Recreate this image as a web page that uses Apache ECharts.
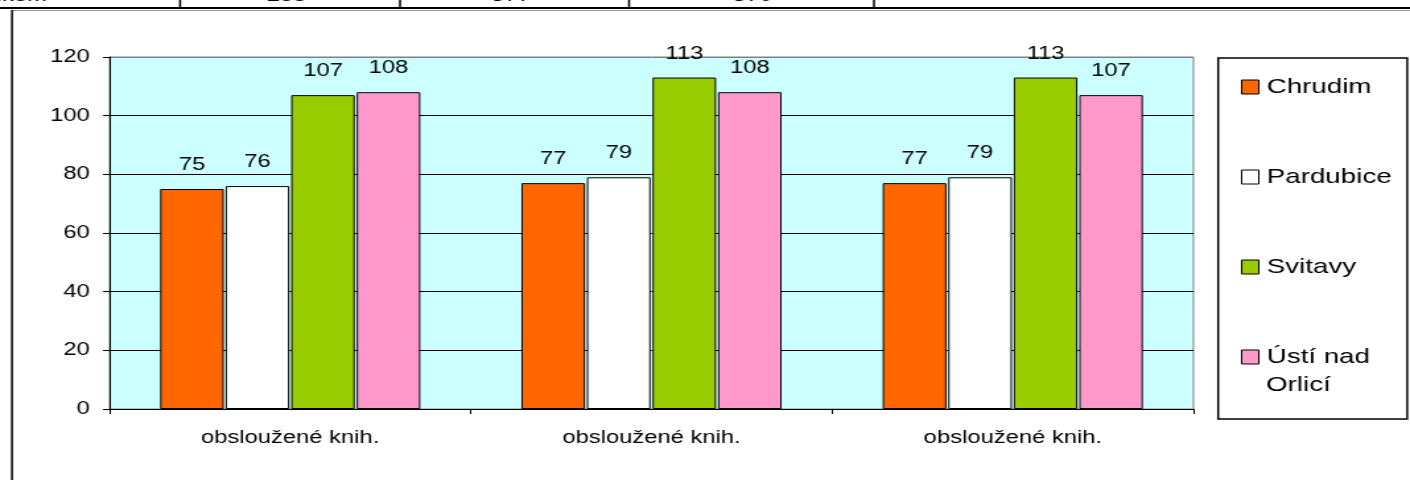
<!DOCTYPE html>
<html>
<head>
<meta charset="utf-8">
<script src="https://cdn.jsdelivr.net/npm/echarts@6/dist/echarts.min.js"></script>
<style>
  html, body { margin: 0; padding: 0; background: #fff; overflow: hidden; width: 1410px; height: 480px; }
  #c { width: 1068px; height: 480px; transform: scaleX(1.3202); transform-origin: 0 0; }
</style>
</head>
<body>
<div id="c"></div>
<script>
// ---- data ----
const categories = ['obsloužené knih.', 'obsloužené knih.', 'obsloužené knih.'];
const seriesNames = ['Chrudim', 'Pardubice', 'Svitavy', 'Ústí nad Orlicí'];
const chrudim = [75, 77, 77];
const pardubice = [76, 79, 79];
const svitavy = [107, 113, 113];
const ustiNadOrlici = [108, 108, 107];
const yTicks = [0, 20, 40, 60, 80, 100, 120];
const tableRowTexts = ['Celkem', '255', '377', '370'];
// legend label of the last series is wrapped onto two lines
const lastLegendLine1 = 'Ústí nad';
const lastLegendLine2 = 'Orlicí';

const colors = ['#FF6600', '#FFFFFF', '#99CC00', '#FF99CC'];
const values = [chrudim, pardubice, svitavy, ustiNadOrlici];
const FONT = "'Liberation Sans', Arial, sans-serif";

const chart = echarts.init(document.getElementById('c'), null, { renderer: 'canvas' });

const series = seriesNames.map((name, i) => ({
  name: name,
  type: 'bar',
  data: values[i],
  barGap: '3%',
  barCategoryGap: '28%',
  itemStyle: { color: colors[i], borderColor: '#000', borderWidth: 1 },
  label: {
    show: true, position: 'top', distance: 15,
    color: '#000', fontSize: 18, fontFamily: FONT
  },
  emphasis: { disabled: true },
  animation: false
}));

const LEG_LEFT = 940, LEG_TOP = 73, LEG_ICON_W = 13, LEG_ICON_H = 14, LEG_GAP = 62, LEG_LINE = 28;

const option = {
  animation: false,
  backgroundColor: '#ffffff',
  grid: {
    left: 83, right: 164, top: 57, bottom: 71,
    show: true, backgroundColor: '#CCFFFF', borderColor: '#808080', borderWidth: 1
  },
  xAxis: {
    type: 'category',
    data: categories,
    axisLine: { lineStyle: { color: '#000', width: 1 } },
    axisTick: { show: true, length: 5, lineStyle: { color: '#000' } },
    axisLabel: { color: '#000', fontSize: 18, fontFamily: FONT, margin: 20 },
    splitLine: { show: false }
  },
  yAxis: {
    type: 'value',
    min: yTicks[0], max: yTicks[yTicks.length - 1], interval: 20,
    axisLine: { show: true, lineStyle: { color: '#000', width: 1 } },
    axisTick: { show: true, length: 5, lineStyle: { color: '#000' } },
    axisLabel: { color: '#000', fontSize: 18, fontFamily: FONT, margin: 15 },
    splitLine: { show: true, lineStyle: { color: ['#000', '#000', '#000', '#000', '#000', '#000', '#808080'], width: 1 } }
  },
  legend: {
    orient: 'vertical',
    left: LEG_LEFT, top: LEG_TOP, padding: 0,
    itemWidth: LEG_ICON_W, itemHeight: LEG_ICON_H, itemGap: LEG_GAP,
    icon: 'rect',
    itemStyle: { borderColor: '#000', borderWidth: 1 },
    textStyle: { color: '#000', fontSize: 21, fontFamily: FONT, lineHeight: LEG_LINE, padding: [0, 0, 0, 1] },
    formatter: function (n) { return n === seriesNames[3] ? lastLegendLine1 : n; },
    data: seriesNames,
    selectedMode: false
  },
  graphic: [
    // table fragment at top
    { type: 'line', shape: { x1: 0, y1: 8, x2: 1068, y2: 8 }, style: { stroke: '#000', lineWidth: 2 }, silent: true },
    { type: 'line', shape: { x1: 136.4, y1: 0, x2: 136.4, y2: 8 }, style: { stroke: '#000', lineWidth: 1.5 }, silent: true },
    { type: 'line', shape: { x1: 303, y1: 0, x2: 303, y2: 8 }, style: { stroke: '#000', lineWidth: 1.5 }, silent: true },
    { type: 'line', shape: { x1: 476.5, y1: 0, x2: 476.5, y2: 8 }, style: { stroke: '#000', lineWidth: 1.5 }, silent: true },
    { type: 'line', shape: { x1: 662, y1: 0, x2: 662, y2: 8 }, style: { stroke: '#000', lineWidth: 1.5 }, silent: true },
    { type: 'text', style: { text: tableRowTexts[0], x: 35.6, y: 5, align: 'right', verticalAlign: 'bottom', fill: '#000', font: '18px ' + FONT }, silent: true },
    { type: 'text', style: { text: tableRowTexts[1], x: 217, y: 5, align: 'center', verticalAlign: 'bottom', fill: '#000', font: '18px ' + FONT }, silent: true },
    { type: 'text', style: { text: tableRowTexts[2], x: 387, y: 5, align: 'center', verticalAlign: 'bottom', fill: '#000', font: '18px ' + FONT }, silent: true },
    { type: 'text', style: { text: tableRowTexts[3], x: 570, y: 5, align: 'center', verticalAlign: 'bottom', fill: '#000', font: '18px ' + FONT }, silent: true },
    // chart frame
    { type: 'line', shape: { x1: 9.1, y1: 10.5, x2: 1068, y2: 10.5 }, style: { stroke: '#9a9a9a', lineWidth: 1 }, silent: true },
    { type: 'line', shape: { x1: 9.1, y1: 10, x2: 9.1, y2: 480 }, style: { stroke: '#000', lineWidth: 1.5 }, silent: true },
    // legend box
    { type: 'rect', shape: { x: 922.7, y: 58, width: 143.2, height: 361 }, style: { fill: 'none', stroke: '#000', lineWidth: 1.5 }, silent: true, z: -1 },
    // second line of the wrapped legend label
    { type: 'text', style: {
        text: lastLegendLine2,
        x: LEG_LEFT + LEG_ICON_W + 5 + 1,
        y: LEG_TOP + 3 * (LEG_LINE + LEG_GAP) + LEG_LINE / 2 + LEG_LINE,
        align: 'left', verticalAlign: 'middle', fill: '#000', font: '21px ' + FONT }, silent: true }
  ],
  series: series
};

chart.setOption(option);
</script>
</body>
</html>
